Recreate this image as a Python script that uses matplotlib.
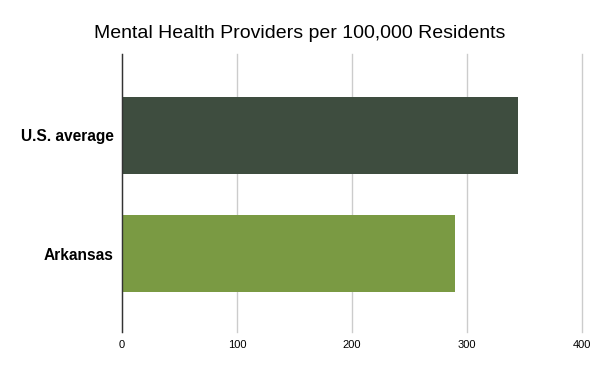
import matplotlib.pyplot as plt

categories = ["U.S. average", "Arkansas"]
values = [345, 290]
bar_colors = ["#3e4d3f", "#7a9a43"]
x_ticks = [0, 100, 200, 300, 400]

plt.rcParams["font.family"] = ["Liberation Sans", "DejaVu Sans"]

fig = plt.figure(figsize=(6, 3.71), dpi=100)
ax = fig.add_axes([0.2033, 0.1051, 0.7662, 0.7493])

ypos = list(range(len(categories)))
ax.barh(ypos, values, height=0.65, color=bar_colors, zorder=3)
ax.set_ylim(1.665, -0.69)
ax.set_yticks(ypos)
ax.set_yticklabels(categories, fontsize=11.2, fontweight="bold")

ax.set_xlim(0, 400)
ax.set_xticks(x_ticks)
ax.set_xticklabels([str(t) for t in x_ticks], fontsize=8)
ax.grid(axis="x", color="#cccccc", linewidth=1, zorder=0)
for gl in ax.get_xgridlines():
    gl.set_clip_on(False)
ax.tick_params(axis="both", length=0, pad=6)

for side in ["top", "right", "bottom"]:
    ax.spines[side].set_visible(False)
ax.spines["left"].set_color("#333333")
ax.spines["left"].set_linewidth(1)
ax.spines["left"].set_zorder(4)

fig.text(0.5, 0.8968, "Mental Health Providers per 100,000 Residents",
         ha="center", va="baseline", fontsize=14, color="#000000")

fig.savefig("out.png", dpi=100)
